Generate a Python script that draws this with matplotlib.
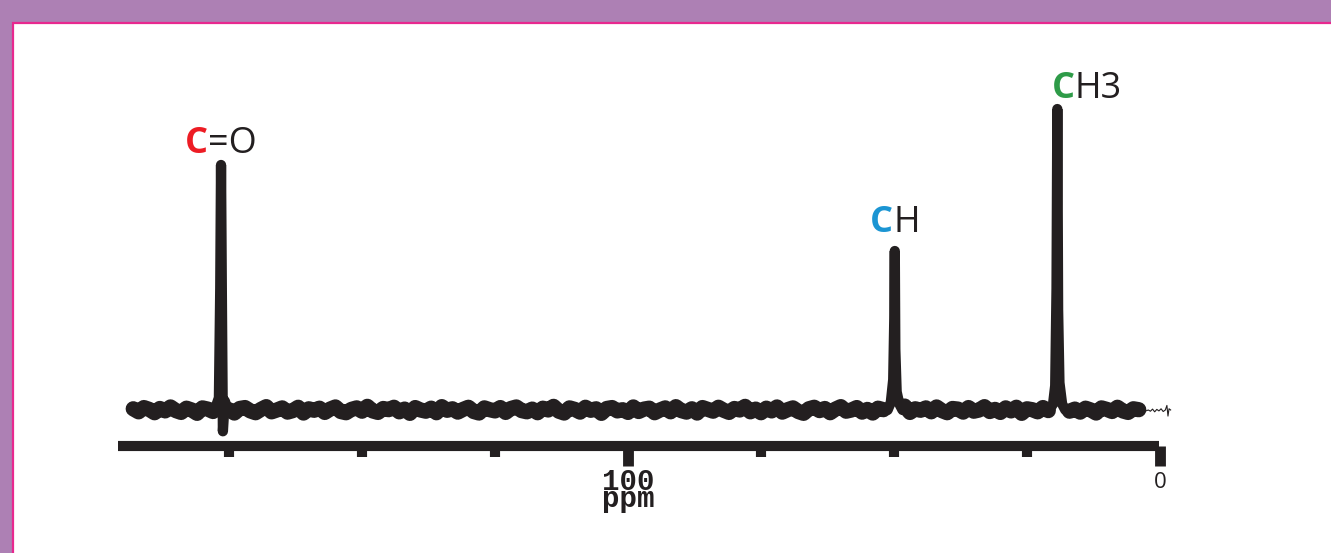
import numpy as np
import matplotlib
matplotlib.use("Agg")
import matplotlib.pyplot as plt
from matplotlib.patches import Rectangle

# ---------------- data ----------------
# baseline noise (milli-intensity units), sampled every 1 ppm from 193 to 4 ppm
noise_milli = [4, -6, 8, 2, -9, 5, -3, 10, -2, -8,
               6, 0, -11, 7, 3, -5, 9, -4, 1, -10,
               5, 8, -3, -9, 2, 11, -6, 0, 7, -7,
               -2, 9, -10, 4, -1, 6, -8, 3, 10, -5,
               -9, 2, 7, -4, 12, -3, -8, 5, 1, 9,
               -6, 3, -11, 8, 0, -4, 6, -9, 11, -1,
               4, -7, 2, 9, -5, -10, 7, 1, -3, 8,
               -8, 5, 10, -2, -6, 3, -9, 6, 0, 12,
               -4, -10, 7, 2, -7, 9, -1, 4, -11, 5,
               8, -3, 1, -8, 10, -5, 3, 6, -9, 0,
               7, -6, 11, -2, -7, 4, -10, 8, 2, -4,
               9, -1, -8, 5, 0, 12, -6, 3, -9, 6,
               -3, 10, -7, 1, 7, -5, -11, 4, 9, -2,
               5, -9, 3, 11, -4, 0, 8, -7, 2, -10,
               6, 1, -5, 9, -3, 13, -8, 4, -1, 7,
               -6, 10, -2, -9, 5, 3, -7, 8, -4, 0,
               11, -5, 2, -8, 7, -3, 9, -11, 4, 1,
               -6, 8, -2, 5, -9, 10, -4, 3, -7, 6,
               0, -10, 7, 2, -5, 9, -3, -8, 4, 1]
noise_ppm = np.arange(193, 3, -1)

# peaks (ppm, intensity)
co_ppm = [178.0, 177.3, 176.9, 176.65, 176.5, 176.35, 176.15, 175.8, 175.2]
co_int = [0.0, 0.02, 0.04, 0.40, 0.806, 0.40, -0.07, 0.03, 0.0]
ch_ppm = [51.2, 50.6, 50.15, 49.95, 49.85, 49.75, 49.5, 49.0, 48.4]
ch_int = [0.0, 0.025, 0.10, 0.30, 0.523, 0.20, 0.06, 0.02, 0.0]
ch3_ppm = [20.8, 20.1, 19.7, 19.45, 19.3, 19.15, 18.9, 18.4, 17.8]
ch3_int = [0.0, 0.02, 0.08, 0.40, 0.99, 0.33, 0.09, 0.02, 0.0]
peak_centers = [176.5, 49.85, 19.3]

# thin tail at right end
tail_ppm = [4.0, 3.4, 2.8, 2.2, 1.8, 1.4, 1.0, 0.6, 0.2, -0.2, -0.6, -1.0, -1.3, -1.5, -1.7, -2.0]
tail_int = [0.0, 0.003, -0.004, 0.0, -0.004, 0.003, -0.006, 0.002, -0.003, 0.004, -0.005, 0.0, 0.015, -0.02, 0.004, 0.0]

# axis
axis_left_ppm = 195.86
major_ticks = [100, 0]
minor_ticks = [175, 150, 125, 75, 50, 25]
peak_labels = [("C", "=O", "#ed1c24", 183.27, 0.8454),
               ("C", "H", "#1b95d3", 54.51, 0.5855),
               ("C", "H3", "#2e9b48", 20.30, 1.0263)]

# ---------------- figure ----------------
W, H = 1331, 553
fig = plt.figure(figsize=(W / 100, H / 100), dpi=100)
fig.patch.set_facecolor("#ad80b4")
panel = Rectangle((13 / W, -0.1), 1.2, (H - 23) / H + 0.1, transform=fig.transFigure,
                  facecolor="white", edgecolor="#e8288f", lw=1.6, zorder=0)
fig.add_artist(panel)

ax = fig.add_axes([100 / W, (H - 530) / H, 1100 / W, 480 / H])
ax.set_xlim(199.25, -7.52)
ax.set_ylim(-0.39474, 1.18421)
ax.axis("off")
ax.patch.set_alpha(0)

dark = "#231f20"

# assemble spectrum
noise_int = np.array(noise_milli) / 1000.0
mask = np.ones(len(noise_ppm), dtype=bool)
for c in peak_centers:
    mask &= np.abs(noise_ppm - c) > 1.4
xs = np.concatenate([noise_ppm[mask], co_ppm, ch_ppm, ch3_ppm])
ys = np.concatenate([noise_int[mask], co_int, ch_int, ch3_int])
order = np.argsort(-xs)
xs, ys = xs[order], ys[order]

# thick noisy baseline band (broken at the peaks) and thinner spectrum line
noise_only = np.where(mask, noise_int, np.nan)
ax.plot(noise_ppm, noise_only, color=dark, lw=11.0, solid_joinstyle="round",
        solid_capstyle="round", zorder=3)
ax.plot(xs, ys, color=dark, lw=7.4, solid_joinstyle="round", solid_capstyle="round", zorder=3)
ax.plot(tail_ppm, tail_int, color=dark, lw=0.8, zorder=3)

# axis bar and ticks
ybar = -0.1184
ax.plot([axis_left_ppm, 0.15], [ybar, ybar], color=dark, lw=7.3, solid_capstyle="butt", zorder=2)
ax.vlines(minor_ticks, ybar, -0.1536, color=dark, lw=7.3, capstyle="butt", zorder=2)
ax.vlines(major_ticks, ybar, -0.1842, color=dark, lw=7.8, capstyle="butt", zorder=2)

ax.text(100, -0.1908, "100\nppm", family="Liberation Mono", weight="bold", fontsize=21,
        ha="center", va="top", ma="center", linespacing=0.5, color=dark)
ax.text(0, -0.2566, "0", family="Open Sans", fontsize=16, ha="center", va="baseline", color=dark)

# peak labels
for c, rest, col, px, py in peak_labels:
    t = ax.text(px, py, c, family="Open Sans", weight="bold", fontsize=26, color=col,
                ha="left", va="baseline")
    ax.annotate(rest, xy=(1, 0), xycoords=t, ha="left", va="bottom",
                family="Open Sans", fontsize=26, color=dark)

fig.savefig("out.png", dpi=100, facecolor=fig.get_facecolor())
